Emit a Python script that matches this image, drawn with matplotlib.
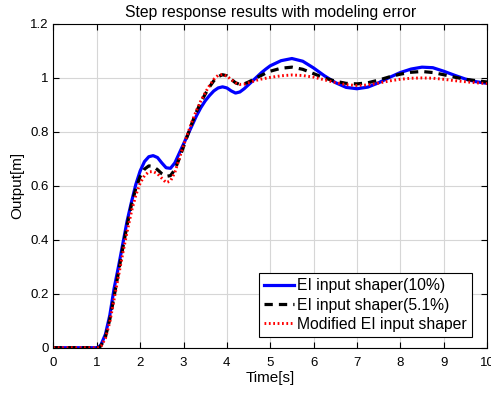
import matplotlib

matplotlib.use("Agg")
import matplotlib.pyplot as plt

# sample times [s] shared by all three responses
time = [
    0.0, 1.0, 1.05, 1.1, 1.2, 1.3, 1.4, 1.5, 1.6, 1.7, 1.8, 1.9,
    2.0, 2.1, 2.2, 2.3, 2.4, 2.5, 2.6, 2.7, 2.8, 2.9,
    3.0, 3.1, 3.2, 3.3, 3.4, 3.5, 3.6, 3.7, 3.8, 3.9,
    4.0, 4.1, 4.2, 4.3, 4.4, 4.5, 4.6, 4.7, 4.8, 4.9,
    5.0, 5.25, 5.5, 5.75, 6.0, 6.25, 6.5, 6.75, 7.0, 7.25, 7.5, 7.75,
    8.0, 8.25, 8.5, 8.75, 9.0, 9.25, 9.5, 9.75, 10.0,
]

ei_10 = [
    0.0, 0.0, 0.003, 0.012, 0.05, 0.12, 0.22, 0.30, 0.385, 0.47, 0.54, 0.605,
    0.655, 0.69, 0.708, 0.712, 0.705, 0.685, 0.667, 0.665, 0.685, 0.72,
    0.755, 0.79, 0.825, 0.86, 0.89, 0.915, 0.935, 0.952, 0.963, 0.967,
    0.963, 0.952, 0.944, 0.948, 0.96, 0.975, 0.99, 1.005, 1.02, 1.033,
    1.045, 1.064, 1.072, 1.062, 1.037, 1.008, 0.983, 0.965, 0.96, 0.966, 0.982, 1.002,
    1.02, 1.033, 1.04, 1.038, 1.025, 1.01, 0.996, 0.986, 0.98,
]

ei_51 = [
    0.0, 0.0, 0.0, 0.008, 0.04, 0.105, 0.19, 0.28, 0.37, 0.455, 0.53, 0.59,
    0.635, 0.662, 0.674, 0.672, 0.66, 0.645, 0.635, 0.638, 0.66, 0.70,
    0.745, 0.79, 0.835, 0.875, 0.91, 0.94, 0.967, 0.99, 1.005, 1.012,
    1.008, 0.995, 0.982, 0.976, 0.978, 0.985, 0.993, 1.002, 1.01, 1.018,
    1.025, 1.036, 1.04, 1.032, 1.016, 1.0, 0.988, 0.98, 0.978, 0.982, 0.992, 1.004,
    1.014, 1.021, 1.024, 1.02, 1.012, 1.003, 0.995, 0.99, 0.985,
]

modified_ei = [
    0.0, 0.0, 0.0, 0.006, 0.035, 0.095, 0.18, 0.265, 0.35, 0.43, 0.505, 0.565,
    0.61, 0.638, 0.652, 0.653, 0.645, 0.628, 0.612, 0.618, 0.65, 0.70,
    0.75, 0.795, 0.84, 0.88, 0.915, 0.945, 0.972, 0.995, 1.01, 1.013,
    1.007, 0.994, 0.982, 0.976, 0.977, 0.982, 0.987, 0.992, 0.996, 0.999,
    1.002, 1.008, 1.011, 1.009, 1.003, 0.993, 0.983, 0.975, 0.972, 0.974, 0.981, 0.989,
    0.995, 0.999, 1.0, 0.999, 0.995, 0.99, 0.986, 0.982, 0.979,
]

x_ticks = list(range(0, 11))
y_ticks = [0, 0.2, 0.4, 0.6, 0.8, 1.0, 1.2]
y_tick_labels = ["0", "0.2", "0.4", "0.6", "0.8", "1", "1.2"]

plt.rcParams["font.family"] = ["Liberation Sans", "DejaVu Sans"]

fig = plt.figure(figsize=(4.91, 3.94), dpi=100)
ax = fig.add_axes([0.1088, 0.1175, 0.8831, 0.8216])

ax.plot(time, ei_10, color="#0000ff", lw=2.3, label="EI input shaper(10%)")
ax.plot(time, ei_51, color="black", lw=2.3, ls=(0, (2.6, 1.9)), label="EI input shaper(5.1%)")
ax.plot(time, modified_ei, color="#ff0000", lw=2.1, ls=(0, (0.6, 0.9)),
        label="Modified EI input shaper")

ax.set_xlim(0, 10)
ax.set_ylim(0, 1.2)
ax.set_xticks(x_ticks)
ax.set_yticks(y_ticks)
ax.set_yticklabels(y_tick_labels)
ax.tick_params(direction="in", top=True, right=True, labelsize=9.5, length=4, width=0.8)
ax.tick_params(axis="x", pad=7)
ax.grid(True, color="#d6d6d6", lw=0.8)
ax.set_axisbelow(True)
for spine in ax.spines.values():
    spine.set_linewidth(0.8)

ax.set_title("Step response results with modeling error", fontsize=11.3, pad=5)
ax.set_xlabel("Time[s]", fontsize=11, labelpad=1)
ax.set_ylabel("Output[m]", fontsize=11, labelpad=4)

leg = ax.legend(loc="lower right", bbox_to_anchor=(0.965, 0.034), fontsize=11.3,
                frameon=True, fancybox=False, edgecolor="black", framealpha=1,
                borderpad=0.3, labelspacing=0.28, handlelength=1.9,
                handletextpad=0.22, borderaxespad=0)
leg.get_frame().set_linewidth(0.8)

fig.savefig("out.png", dpi=100)
